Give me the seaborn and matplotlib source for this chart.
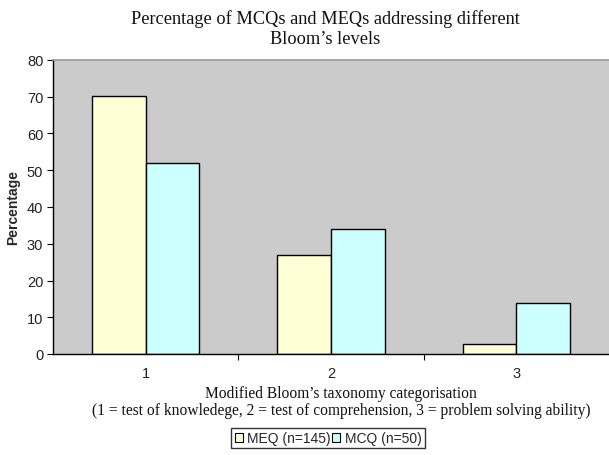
import matplotlib
matplotlib.use("Agg")
import matplotlib.pyplot as plt
from matplotlib.patches import Patch
import seaborn as sns
import pandas as pd

# Share of questions at each modified Bloom's level (%)
levels = ["1", "2", "3"]
meq_pct = [70.3, 26.9, 2.8]
mcq_pct = [52.0, 34.0, 14.0]
series_names = ["MEQ (n=145)", "MCQ (n=50)"]
series_colors = ["#FFFFD6", "#CCFFFF"]
y_ticks = [0, 10, 20, 30, 40, 50, 60, 70, 80]

df = pd.DataFrame({
    "level": levels * 2,
    "pct": meq_pct + mcq_pct,
    "group": [series_names[0]] * 3 + [series_names[1]] * 3,
})

sns.set_theme(style="white")
plt.rcParams["font.family"] = ["Liberation Sans", "DejaVu Sans"]

fig = plt.figure(figsize=(6.09, 4.56), dpi=100)
ax = fig.add_axes([53 / 609, 1 - 355 / 456, 1 - 53 / 609, (355 - 61) / 456])
ax.set_facecolor("#CBCBCB")

sns.barplot(data=df, x="level", y="pct", hue="group", order=levels,
            hue_order=series_names, palette=series_colors, width=0.58,
            gap=0, edgecolor="black", linewidth=1.0, saturation=1,
            legend=False, ax=ax)

ax.set_xlim(-0.5, 2.5)
ax.set_ylim(0, 80)
ax.set_yticks(y_ticks)
ax.tick_params(axis="y", direction="out", length=4, width=0.8, color="black",
               left=True, labelsize=10.5, pad=3, labelcolor="#222222")
ax.tick_params(axis="x", which="major", length=0, labelsize=10.5, pad=9,
               labelcolor="#222222")
ax.set_xticks([0.5, 1.5], minor=True)
ax.tick_params(axis="x", which="minor", direction="out", length=4, width=0.8,
               color="black", bottom=True)

for side in ["left", "bottom"]:
    ax.spines[side].set_color("black")
    ax.spines[side].set_linewidth(1.0)
ax.spines["top"].set_color("#999999")
ax.spines["top"].set_linewidth(1.2)
ax.spines["right"].set_visible(False)

ax.set_ylabel("Percentage", fontsize=10, fontweight="bold", labelpad=5)
ax.set_xlabel("Modified Bloom\u2019s taxonomy categorisation\n"
              "(1 = test of knowledege, 2 = test of comprehension, 3 = problem solving ability)",
              family=["Liberation Serif"], fontsize=11.2, linespacing=1.1,
              color="#111111")
ax.xaxis.set_label_coords((341 - 53) / 556, (355 - 386) / 294)

ax.set_title("Percentage of MCQs and MEQs addressing different\nBloom\u2019s levels",
             family=["Liberation Serif"], fontsize=13.2, pad=12, linespacing=1.25,
             x=(325 - 53) / 556, color="#111111")

handles = [Patch(facecolor=c, edgecolor="black", linewidth=0.8) for c in series_colors]
leg = fig.legend(handles, series_names, loc="center", ncol=2,
                 bbox_to_anchor=(328 / 609, 1 - 439 / 456), fontsize=10,
                 frameon=True, fancybox=False, handlelength=0.6, handleheight=0.6,
                 handletextpad=0.3, columnspacing=0.1, borderpad=0.25,
                 borderaxespad=0)
leg.get_frame().set_edgecolor("black")
leg.get_frame().set_linewidth(1.0)

fig.savefig("out.png", dpi=100)
